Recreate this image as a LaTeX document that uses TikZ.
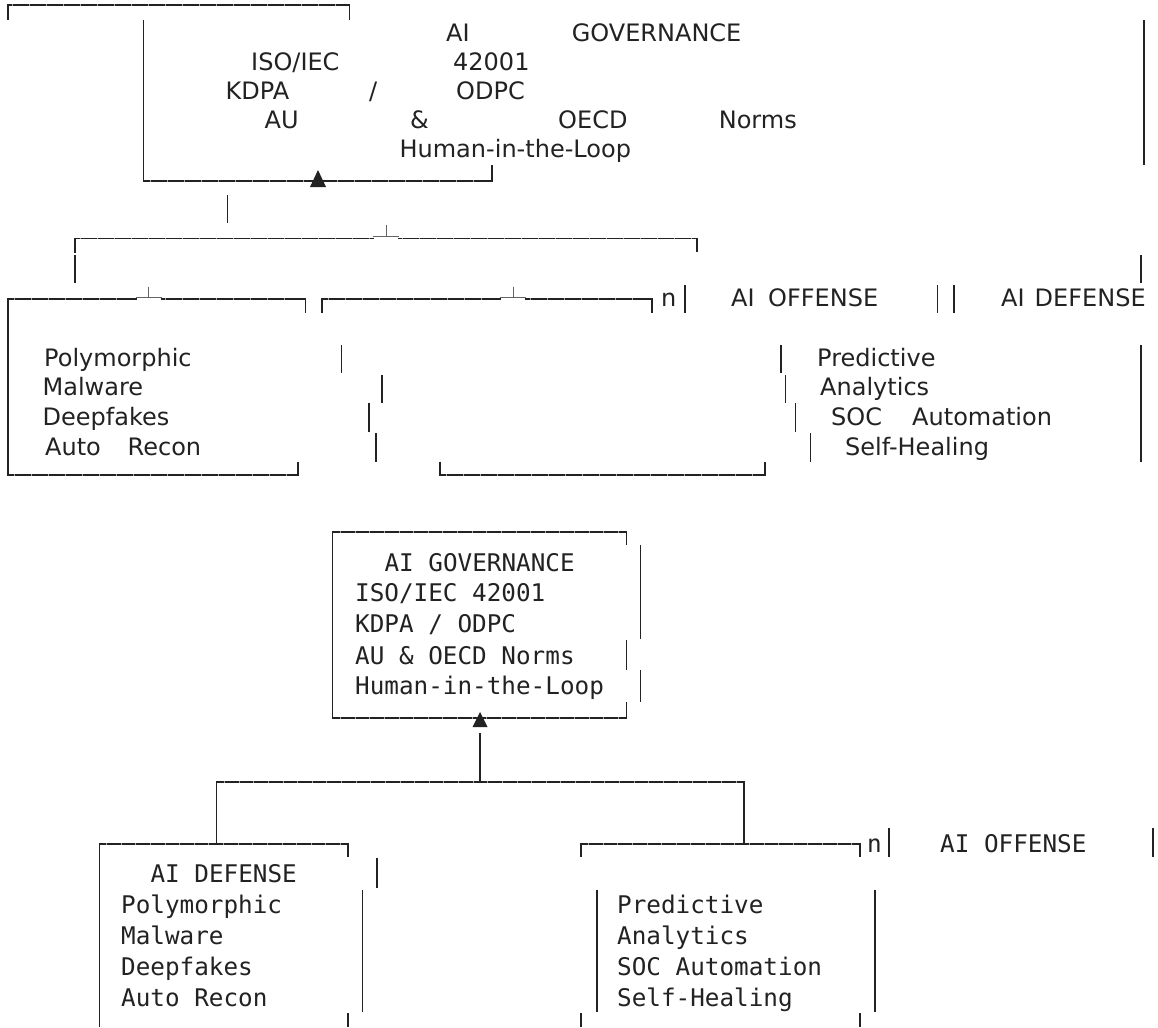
\documentclass[tikz,border=0pt]{standalone}
\usepackage{fontspec}
\setmainfont{DejaVu Sans}
\newfontfamily\monof{DejaVu Sans Mono}
\definecolor{ink}{HTML}{222222}
\tikzset{
  ln/.style={line width=1.5pt, draw=ink, line cap=butt},
  thin/.style={line width=0.8pt, draw=ink!70, line cap=butt},
  tk/.style={line width=1.5pt, draw=white!60!ink, dash pattern=on 0.7pt off 16.3pt},
  tkm/.style={line width=1.5pt, draw=white!60!ink, dash pattern=on 0.7pt off 13.93pt},
  sw/.style={font=\fontsize{24}{28}\selectfont, anchor=base west, inner sep=0pt, text=ink},
  mw/.style={font=\monof\fontsize{24.3}{28}\selectfont, anchor=base west, inner sep=0pt, text=ink},
  tri/.style={fill=ink}
}
\begin{document}
\begin{tikzpicture}[x=1pt,y=-1pt]
\useasboundingbox[fill=white] (0,0) rectangle (1158,1027);

% ================= TOP (sans, garbled) =================
\draw[ln] (8,20) -- (8,5) -- (349.6,5) -- (349.6,20);
\draw[tk] (12,5) -- (345,5);
\draw[ln] (143.5,20) -- (143.5,181) -- (492,181) -- (492,165);
\draw[tk] (150,181) -- (488,181);
\fill[tri] (310,187) -- (326,187) -- (318,170) -- cycle;
\draw[ln] (1144,20) -- (1144,165);

\node[sw] (g1) at (446,41.7) {AI};
\node[sw] (g2) at (571.6,41.7) {GOVERNANCE};
\node[sw] (g3) at (251,70.7) {ISO/IEC};
\node[sw] (g4) at (453,70.7) {42001};
\node[sw] (g5) at (225.5,100) {KDPA};
\node[sw] (g6) at (369,100) {/};
\node[sw] (g7) at (456,100) {ODPC};
\node[sw] (g8) at (264.5,128.3) {AU};
\node[sw] (g9) at (410,128.3) {\&};
\node[sw] (g10) at (558,128.3) {OECD};
\node[sw] (g11) at (718.6,128.3) {Norms};
\node[sw] (g12) at (399.4,157.7) {Human-in-the-Loop};

\draw[ln] (227.5,195) -- (227.5,223);
\draw[ln] (75,252.7) -- (75,238.3) -- (374,238.3);
\draw[ln] (398,238.3) -- (696.8,238.3) -- (696.8,251.7);
\draw[thin] (373,236.6) -- (399,236.6);
\draw[thin] (385.9,225) -- (385.9,236.6);
\draw[tk] (80,238.3) -- (370,238.3);
\draw[tk] (402,238.3) -- (692,238.3);
\draw[ln] (75,255) -- (75,283);
\draw[ln] (1141,255) -- (1141,283);

% left box
\draw[ln] (136.7,299) -- (8.1,299) -- (8.1,475) -- (297.8,475) -- (297.8,461.7);
\draw[ln] (160.7,299) -- (305.6,299) -- (305.6,313);
\draw[thin] (135.7,297.3) -- (161.7,297.3);
\draw[thin] (148.7,286.7) -- (148.7,297.3);
\draw[tk] (14,299) -- (132,299);
\draw[tk] (165,299) -- (300,299);
\draw[tk] (14,475) -- (293,475);
% second box top
\draw[ln] (321.9,313) -- (321.9,299) -- (501,299);
\draw[ln] (525,299) -- (652,299) -- (652,313);
\draw[thin] (500,297.3) -- (526,297.3);
\draw[thin] (513,286.7) -- (513,297.3);
\draw[tk] (328,299) -- (497,299);
\draw[tk] (530,299) -- (648,299);
\node[sw] (n1) at (661,306.7) {n};
\draw[ln] (685,285) -- (685,313);
\node[sw] (off1) at (731,306.7) {AI};
\node[sw] (off2) at (768,306.7) {OFFENSE};
\draw[ln] (937.5,285) -- (937.5,313);
\draw[ln] (954,285) -- (954,313);
\node[sw] (def1) at (1001,306.7) {AI};
\node[sw] (def2) at (1034.5,306.7) {DEFENSE};

\node[sw] (p1) at (44,366.7) {Polymorphic};
\node[sw] (p2) at (42.4,395) {Malware};
\node[sw] (p3) at (42.4,425) {Deepfakes};
\node[sw] (p4) at (45,455) {Auto};
\node[sw] (p5) at (127.5,455) {Recon};
\draw[ln] (341.5,345) -- (341.5,373);
\draw[ln] (382,375) -- (382,402.7);
\draw[ln] (369,403) -- (369,431.7);
\draw[ln] (376,433) -- (376,461.7);
\draw[ln] (440,461.7) -- (440,475) -- (765,475) -- (765,461.7);
\draw[tk] (446,475) -- (760,475);

\draw[ln] (781,345) -- (781,373);
\draw[ln] (785.3,375) -- (785.3,402.7);
\draw[ln] (795.6,403) -- (795.6,431.7);
\draw[ln] (810.4,433) -- (810.4,461.7);
\node[sw] (q1) at (817,366.7) {Predictive};
\node[sw] (q2) at (820,395) {Analytics};
\node[sw] (q3) at (831,425) {SOC};
\node[sw] (q4) at (912,425) {Automation};
\node[sw] (q5) at (845,455) {Self-Healing};
\draw[ln] (1141,345) -- (1141,461.7);

% ================= BOTTOM (mono) =================
\draw[ln] (626.7,545) -- (626.7,532) -- (332.7,532) -- (332.7,718) -- (626.7,718) -- (626.7,702);
\draw[tkm] (340,532) -- (622,532);
\draw[tkm] (340,718) -- (622,718);
\draw[ln] (640.7,545) -- (640.7,639);
\draw[ln] (626.5,640) -- (626.5,670);
\draw[ln] (640.7,670) -- (640.7,702);
\fill[tri] (472.5,727) -- (487.5,727) -- (480,712) -- cycle;
\node[mw] (m1) at (384.3,571) {AI GOVERNANCE};
\node[mw] (m2) at (355,601.7) {ISO/IEC 42001};
\node[mw] (m3) at (355,632.7) {KDPA / ODPC};
\node[mw] (m4) at (355,664) {AU \& OECD Norms};
\node[mw] (m5) at (355,694) {Human-in-the-Loop};

\draw[ln] (480,733) -- (480,782);
\draw[ln] (216.7,844) -- (216.7,782) -- (743.8,782) -- (743.8,844);
\draw[tkm] (224,782) -- (738,782);

% left box
\draw[ln] (348,857) -- (348,844) -- (99.3,844) -- (99.3,1027);
\draw[tkm] (106,844) -- (343,844);
\draw[ln] (377,858) -- (377,888);
\draw[ln] (362.7,890) -- (362.7,1012);
\draw[ln] (348,1013) -- (348,1027);
\node[mw] (d0) at (150.3,882.7) {AI DEFENSE};
\node[mw] (d1) at (121,913) {Polymorphic};
\node[mw] (d2) at (121,944) {Malware};
\node[mw] (d3) at (121,975) {Deepfakes};
\node[mw] (d4) at (121,1006) {Auto Recon};

% right box
\draw[ln] (581,857) -- (581,844) -- (860,844) -- (860,857);
\draw[tkm] (588,844) -- (855,844);
\node[mw] (n2) at (867,852) {n};
\draw[ln] (888.8,828) -- (888.8,857);
\node[mw] (o0) at (940,852) {AI OFFENSE};
\draw[ln] (1153,828) -- (1153,857);
\draw[ln] (597,890) -- (597,1012);
\draw[ln] (875,890) -- (875,1012);
\draw[ln] (581,1013) -- (581,1027);
\draw[ln] (860,1013) -- (860,1027);
\node[mw] (r1) at (617,913) {Predictive};
\node[mw] (r2) at (617,944) {Analytics};
\node[mw] (r3) at (617,975) {SOC Automation};
\node[mw] (r4) at (617,1006) {Self-Healing};
\end{tikzpicture}
\end{document}
